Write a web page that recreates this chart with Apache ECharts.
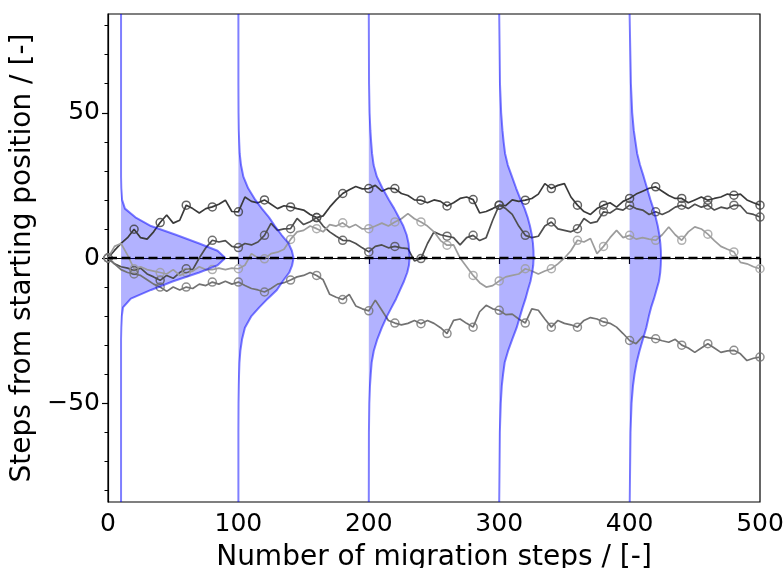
<!DOCTYPE html>
<html>
<head>
<meta charset="utf-8">
<script src="https://cdn.jsdelivr.net/npm/echarts@6/dist/echarts.min.js"></script>
<style>html,body{margin:0;padding:0;background:#fff;}#c{width:783px;height:568px;}</style>
</head>
<body>
<div id="c"></div>
<script>
// ---- data ----
const steps = [0,5,10,15,20,25,30,35,40,45,50,55,60,65,70,75,80,85,90,95,100,105,110,115,120,125,130,135,140,145,150,155,160,165,170,175,180,185,190,195,200,205,210,215,220,225,230,235,240,245,250,255,260,265,270,275,280,285,290,295,300,305,310,315,320,325,330,335,340,345,350,355,360,365,370,375,380,385,390,395,400,405,410,415,420,425,430,435,440,445,450,455,460,465,470,475,480,485,490,495,500];
const walkA = [0,2.6,5,7,9.9,7,6.5,9,12.2,14.8,12,13,18.2,17,15.5,17,17.6,18.5,19.9,16,15.9,21,19.5,19,20,18.5,17,18,17.6,17,16.5,15,13.9,14.5,17.5,20,22.2,23.5,24.6,23.8,23.9,25,23,24,23.9,22.2,21.5,20,19.9,19,20,19.5,17.9,19,20.5,21,20.1,15.5,16,17,18.2,18,20,19.5,19.9,20.5,22,25.6,23.9,25,25.6,21,18.2,16,15,17,18.2,19,17.5,19.5,20.5,22,23,24,24.5,23,21.5,20.5,20.5,19,20,21,19.9,20.5,21,22,21.6,22,20,19,18.2];
const walkB = [0,-2,-3,-3.5,-4.3,-3.5,-5.5,-6.5,-7.7,-6,-7,-5,-3.7,-4,0,3.5,6.1,5.5,6,4,3.6,5,4.5,5.5,7.8,11.9,9.5,10,10.1,13.6,11.5,12.5,13.9,11,9,7.5,6.1,6,5,3.5,2.1,4,4.5,3.5,4,3.5,3.2,-1,-0.2,5,9,8,7.5,7,4.5,7,7.8,6,7,13,18.2,17,15,11,7.8,7,7.5,11,12.4,10,9.5,9,10.1,13.6,12,12.5,15.9,15.5,17,16.5,18.2,17,16.5,15,15.9,15,16,17.5,18.2,17,18.5,17.5,18.2,16.5,17.5,17,18.2,18,15.5,15,14.1];
const walkC = [0,4,5,1,-3.7,-3,-4,-4.5,-5,-5.5,-4,-6,-5,-4.5,-3,-4,-4,-3.5,-4,-3.5,-3.7,-2.5,1.5,0,-0.3,1.5,2,3,6.4,9,9.5,11,10.1,9,11.5,11,12.1,10.5,11.5,10,10.1,11,12,11,12.4,13.5,15.3,13.5,12.4,11,9,6,4.4,4.5,0,-3,-6,-8.5,-10,-9.5,-7.9,-6.5,-6,-5.5,-3.7,-4.5,-5.5,-4.5,-3.7,-2,0,2.5,6.1,5.5,6.7,1.5,4,7,9.5,7,7.8,6.5,7,6.5,6.1,8,10.7,8,6.1,9,10.7,10,8.2,6,4,3,2.1,-1.5,-2,-3,-3.7];
const walkD = [0,-2,-4,-5,-5.5,-6,-7.5,-9,-10,-11.5,-10,-11,-10,-10.5,-9,-9.5,-8.3,-9,-8,-9,-8.3,-9.5,-10.5,-11,-11.7,-10.5,-9,-8.5,-7.6,-6.5,-6,-5,-6,-7.5,-12.5,-13.5,-14.3,-12.5,-16.5,-17.5,-18.2,-14.5,-18,-21.5,-22.4,-23,-22.5,-21.5,-22.6,-21.5,-22.5,-24,-26,-21.5,-21,-22.5,-23.8,-18.5,-16.3,-17.5,-18,-19.5,-19.3,-21,-22.4,-17.5,-18,-21,-23.8,-21.5,-22.5,-23,-23.8,-21.5,-20.5,-21,-22,-22.5,-23.8,-26,-28.4,-29.5,-27,-27.5,-27.8,-28.5,-29,-28,-30,-31,-32.5,-31,-29.5,-31,-32.5,-32,-31.8,-33,-35.3,-34.5,-34.1];
const walkColors = ['#3a3a3a', '#4e4e4e', '#9c9c9c', '#727272'];

// distribution curves: y positions and x (step offset + density) read at each y
const yGrid = [84,60,50,44,40,36,32,28,24,20,17,14,11,8,5,2.5,0,-2.5,-5,-8,-11,-14,-17,-20,-24,-28,-32,-36,-40,-44,-50,-60,-84];
const curveOffsets = [10, 100, 200, 300, 400];
const curve10  = [10,10,10,10,10,10,10,10,10.2,10.8,13,21,33,52,70,84,90,84,70,50,33,17.5,11.5,10.6,10.2,10,10,10,10,10,10,10,10];
const curve100 = [100,100,100.1,100.3,100.6,101,102,103.8,107.5,113,118,123.5,128,133,138.5,141,142.3,141.2,139,134,129.5,122.5,116,110,105,102.8,101.5,100.8,100.5,100.3,100.1,100,100];
const curve200 = [200,200.2,200.6,201.2,201.8,202.5,203.7,206.2,210.5,215.5,219.5,223,226.5,229,230.5,231,231.3,230.8,229.5,227,224,221,217.5,214,210,206.5,203.8,202.2,201.5,200.9,200.4,200.1,200];
const curve300 = [300,300.6,301.5,302.5,303.4,304.5,306.6,309.8,313,316.5,319.5,321.8,323.6,325,325.9,326.3,326.4,326.1,325.3,324,322,320.2,318,316,313.4,310,306.8,304.2,303,302,301.2,300.5,300];
const curve400 = [400,401,402,403.2,404.5,405.8,408,410.8,413.4,416,418.2,420,421.6,422.8,423.6,424,424.1,423.9,423.5,422.5,420.6,418.7,416.5,414.8,412.8,410.2,407.6,405.4,403.8,402.6,401.5,400.7,400.1];

const zeroX = [0, 500];
const zeroY = [0, 0];
const xTicks = [0, 100, 200, 300, 400, 500];
const yTicks = [-50, 0, 50];
const yMinorTicks = [-80,-70,-60,-40,-30,-20,-10,10,20,30,40,60,70,80];

// ---- chart ----
const curves = [curve10, curve100, curve200, curve300, curve400];
const walks = [walkA, walkB, walkC, walkD];
const FONT = 'DejaVu Sans';

const series = [];
series.push({
  type: 'custom',
  silent: true,
  clip: true,
  z: 1,
  data: curveOffsets.map(o => [o, 0]),
  renderItem: function (params, api) {
    const i = params.dataIndex;
    const xs = curves[i];
    const off = curveOffsets[i];
    const pts = yGrid.map((y, j) => api.coord([xs[j], y]));
    pts.push(api.coord([off, yGrid[yGrid.length - 1]]));
    pts.push(api.coord([off, yGrid[0]]));
    return { type: 'polygon', shape: { points: pts }, style: { fill: 'rgba(0,0,255,0.3)' } };
  }
});
walks.forEach((w, k) => {
  series.push({
    type: 'line', z: 2, showSymbol: false, silent: true,
    data: steps.map((s, i) => [s, w[i]]),
    lineStyle: { color: walkColors[k], width: 1.7 },
    clip: true
  });
  series.push({
    type: 'scatter', z: 3, silent: true,
    data: steps.map((s, i) => [s, w[i]]).filter((_, i) => i % 4 === 0),
    symbol: 'circle', symbolSize: 8,
    itemStyle: { color: 'rgba(0,0,0,0)', borderColor: walkColors[k], borderWidth: 1.5 }
  });
});
curves.forEach((c) => {
  series.push({
    type: 'line', z: 4, showSymbol: false, silent: true, clip: true,
    data: yGrid.map((y, j) => [c[j], y]),
    lineStyle: { color: 'rgba(0,0,255,0.5)', width: 2 }
  });
});
series.push({
  type: 'line', z: 5, showSymbol: false, silent: true,
  data: zeroX.map((x, i) => [x, zeroY[i]]),
  lineStyle: { color: '#000', width: 2.6, type: [9, 4.5], cap: 'butt' }
});

const chart = echarts.init(document.getElementById('c'), null, { renderer: 'canvas' });
chart.setOption({
  animation: false,
  backgroundColor: '#fff',
  grid: { left: 108, right: 23, top: 14, bottom: 66, outerBoundsMode: 'none', containLabel: false,
    show: true, borderColor: '#000', borderWidth: 1.2, backgroundColor: 'transparent' },
  xAxis: {
    type: 'value', min: 0, max: 500, interval: 100,
    name: 'Number of migration steps / [-]', nameLocation: 'middle', nameGap: 42,
    nameTextStyle: { fontFamily: FONT, fontSize: 28, color: '#000' },
    axisLine: { show: true, lineStyle: { color: '#000', width: 1.2 } },
    axisTick: { show: true, length: 6, lineStyle: { color: '#000', width: 1.2 }, customValues: xTicks },
    axisLabel: { fontFamily: FONT, fontSize: 25, color: '#000', margin: 10, customValues: xTicks },
    splitLine: { show: false }
  },
  yAxis: [{
    type: 'value', min: -84, max: 84,
    name: 'Steps from starting position / [-]', nameLocation: 'middle', nameGap: 68, nameRotate: 90,
    nameTextStyle: { fontFamily: FONT, fontSize: 28, color: '#000' },
    axisLine: { show: true, lineStyle: { color: '#000', width: 1.2 } },
    axisTick: { show: true, length: 6, lineStyle: { color: '#000', width: 1.2 }, customValues: yTicks },
    axisLabel: { fontFamily: FONT, fontSize: 25, color: '#000', margin: 8, customValues: yTicks,
      formatter: v => (v < 0 ? '\u2212' + Math.abs(v) : String(v)) },
    splitLine: { show: false }
  }, {
    type: 'value', min: -84, max: 84, position: 'left',
    axisLine: { show: false },
    axisTick: { show: true, length: 3.5, lineStyle: { color: '#000', width: 1 }, customValues: yMinorTicks },
    axisLabel: { show: false },
    splitLine: { show: false }
  }],
  series: series
});
</script>
</body>
</html>
